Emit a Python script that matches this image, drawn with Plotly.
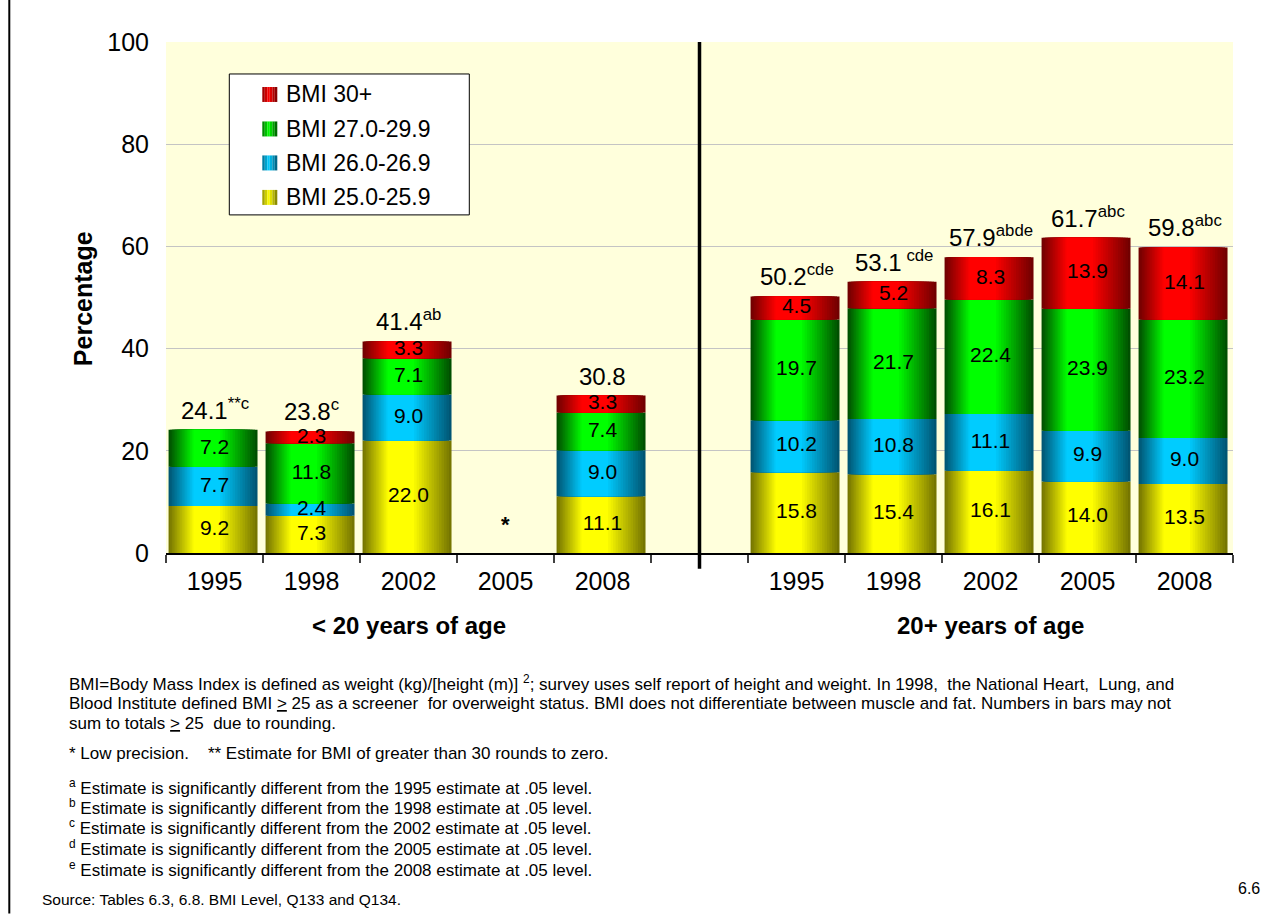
import plotly.graph_objects as go

# ---------------------------------------------------------------- data
years = ["1995", "1998", "2002", "2005", "2008"]
group_labels = ["< 20 years of age", "20+ years of age"]
series_names = ["BMI 25.0-25.9", "BMI 26.0-26.9", "BMI 27.0-29.9", "BMI 30+"]

# under 20 years of age (2005: low precision, not shown)
bmi25_under20 = [9.2, 7.3, 22.0, None, 11.1]
bmi26_under20 = [7.7, 2.4, 9.0, None, 9.0]
bmi27_under20 = [7.2, 11.8, 7.1, None, 7.4]
bmi30_under20 = [0.0, 2.3, 3.3, None, 3.3]
totals_under20 = [24.1, 23.8, 41.4, None, 30.8]
notes_under20 = ["**c", "c", "ab", "", ""]

# 20+ years of age
bmi25_adult = [15.8, 15.4, 16.1, 14.0, 13.5]
bmi26_adult = [10.2, 10.8, 11.1, 9.9, 9.0]
bmi27_adult = [19.7, 21.7, 22.4, 23.9, 23.2]
bmi30_adult = [4.5, 5.2, 8.3, 13.9, 14.1]
totals_adult = [50.2, 53.1, 57.9, 61.7, 59.8]
notes_adult = ["cde", " cde", "abde", "abc", "abc"]

footnotes = [
    "BMI=Body Mass Index is defined as weight (kg)/[height (m)] <sup>2</sup>; survey uses self report of height and weight. In 1998,  the National Heart,  Lung, and",
    "Blood Institute defined BMI <u>></u> 25 as a screener  for overweight status. BMI does not differentiate between muscle and fat. Numbers in bars may not",
    "sum to totals <u>></u> 25  due to rounding.",
    "* Low precision.\u00a0\u00a0\u00a0 ** Estimate for BMI of greater than 30 rounds to zero.",
    "<sup>a</sup> Estimate is significantly different from the 1995 estimate at .05 level.",
    "<sup>b</sup> Estimate is significantly different from the 1998 estimate at .05 level.",
    "<sup>c</sup> Estimate is significantly different from the 2002 estimate at .05 level.",
    "<sup>d</sup> Estimate is significantly different from the 2005 estimate at .05 level.",
    "<sup>e</sup> Estimate is significantly different from the 2008 estimate at .05 level.",
]
source_text = "Source: Tables 6.3, 6.8. BMI Level, Q133 and Q134."
page_number = "6.6"

# ---------------------------------------------------------------- layout helpers
W, H = 1278, 914
L, R, T, B = 165.7, 1232.7, 42.0, 553.3      # plot area in pixels
FONT = "Liberation Sans, Arial, sans-serif"


def px_x(px):
    return (px - L) / (R - L)


def px_y(py):
    return (B - py) / (B - T)


# slots 0-4: under 20, slot 5: spacer, slots 6-10: adults
slots = [0, 1, 2, 3, 4, 6, 7, 8, 9, 10]
series_values = [
    bmi25_under20 + bmi25_adult,
    bmi26_under20 + bmi26_adult,
    bmi27_under20 + bmi27_adult,
    bmi30_under20 + bmi30_adult,
]
totals = totals_under20 + totals_adult
notes = notes_under20 + notes_adult

# dark edge / bright centre colours of each series
shades = {
    "BMI 25.0-25.9": ((0x76, 0x76, 0x00), (0xFF, 0xFF, 0x00)),
    "BMI 26.0-26.9": ((0x00, 0x56, 0x74), (0x00, 0xCC, 0xFF)),
    "BMI 27.0-29.9": ((0x00, 0x50, 0x00), (0x00, 0xFF, 0x00)),
    "BMI 30+": ((0x72, 0x00, 0x00), (0xFF, 0x00, 0x00)),
}


def mix(c0, c1, t):
    return "rgb(%d,%d,%d)" % tuple(round(a + (b - a) * t) for a, b in zip(c0, c1))


BAR_W = 0.917
BAR_LEFT = -0.4735          # bar left edge relative to slot centre
N_LAYERS = 16
PLATEAU = (0.28, 0.58)       # bright part of the cylinder shading

fig = go.Figure()

bases = [0.0] * len(slots)
for name, vals in zip(series_names, series_values):
    dark, bright = shades[name]
    seg_base = list(bases)
    for k in range(N_LAYERS):
        t = k / (N_LAYERS - 1)
        u0 = PLATEAU[0] * t
        u1 = 1 - (1 - PLATEAU[1]) * t
        fig.add_trace(go.Bar(
            x=slots,
            y=[v if v is not None else 0 for v in vals],
            base=seg_base,
            offset=BAR_LEFT + u0 * BAR_W,
            width=(u1 - u0) * BAR_W,
            marker=dict(color=mix(dark, bright, t), line=dict(width=0)),
            name=name,
            showlegend=False,
            hoverinfo="skip" if k < N_LAYERS - 1 else "y+name",
        ))
    # value labels in the middle of each segment
    lx, ly, lt = [], [], []
    for i, v in enumerate(vals):
        if v:
            lx.append(slots[i])
            ly.append(seg_base[i] + v / 2)
            lt.append(f"{v:.1f}")
    fig.add_trace(go.Scatter(
        x=lx, y=ly, text=lt, mode="text",
        textfont=dict(family=FONT, size=21, color="black"),
        showlegend=False, hoverinfo="skip", cliponaxis=False,
    ))
    bases = [b + (v or 0) for b, v in zip(bases, vals)]

annotations = []

# totals above the bars
for x, tot, note in zip(slots, totals, notes):
    if tot is None:
        continue
    txt = f"{tot:.1f}" + (f"<sup>{note}</sup>" if note else "")
    annotations.append(dict(
        x=x, y=tot, xref="x", yref="y", text=txt, showarrow=False,
        yanchor="bottom", xanchor="center", yshift=4,
        font=dict(family=FONT, size=24, color="black"),
    ))

# low-precision marker for 2005, under 20
annotations.append(dict(
    x=3, y=5.5, xref="x", yref="y", text="<b>*</b>", showarrow=False,
    xanchor="center", yanchor="middle",
    font=dict(family=FONT, size=22, color="black"),
))

# group labels
for x, g in zip([2, 8], group_labels):
    annotations.append(dict(
        x=x, y=px_y(626), xref="x", yref="paper", text=f"<b>{g}</b>",
        xanchor="center", yanchor="middle",
        showarrow=False, font=dict(family=FONT, size=24, color="black"),
    ))

# y axis title
annotations.append(dict(
    x=px_x(83), y=px_y(299), xref="paper", yref="paper", text="<b>Percentage</b>",
    xanchor="center", yanchor="middle",
    textangle=-90, showarrow=False, font=dict(family=FONT, size=25, color="black"),
))

# legend (drawn by hand inside the plot)
legend_box = dict(type="rect", xref="paper", yref="paper",
                  x0=px_x(229), x1=px_x(469), y0=px_y(215), y1=px_y(74),
                  line=dict(color="black", width=1), fillcolor="white", layer="above")
shapes = [legend_box]
legend_rows = [94.5, 129, 163, 197.5]
for row_y, name in zip(legend_rows, reversed(series_names)):
    dark, bright = shades[name]
    sw0, sw1 = 262, 277
    steps = 6
    for s in range(steps):
        a = sw0 + (sw1 - sw0) * s / steps
        b = sw0 + (sw1 - sw0) * (s + 1) / steps
        t = 1 - abs((s + 0.5) / steps - 0.45) * 1.8
        shapes.append(dict(type="rect", xref="paper", yref="paper",
                           x0=px_x(a), x1=px_x(b), y0=px_y(row_y + 7.5), y1=px_y(row_y - 7.5),
                           line=dict(width=0), fillcolor=mix(dark, bright, max(t, 0)),
                           layer="above"))
    annotations.append(dict(
        x=px_x(284), y=px_y(row_y), xref="paper", yref="paper", text=name,
        xanchor="left", yanchor="middle", showarrow=False,
        font=dict(family=FONT, size=23, color="black"),
    ))

# divider between the two age groups
shapes.append(dict(type="line", xref="x", yref="paper", x0=5, x1=5,
                   y0=px_y(569), y1=1, line=dict(color="black", width=3.5)))
# page edge on the left
shapes.append(dict(type="line", xref="paper", yref="paper", x0=px_x(9), x1=px_x(9),
                   y0=px_y(H), y1=px_y(0), line=dict(color="black", width=2)))

# footnotes
foot_rows = [683, 704, 724, 754, 787, 807, 827, 848, 869]
for row_y, txt in zip(foot_rows, footnotes):
    annotations.append(dict(
        x=px_x(67), y=px_y(row_y), xref="paper", yref="paper", text=txt,
        xanchor="left", yanchor="middle", showarrow=False,
        font=dict(family=FONT, size=17, color="black"),
    ))
annotations.append(dict(
    x=px_x(40), y=px_y(900), xref="paper", yref="paper", text=source_text,
    xanchor="left", yanchor="middle", showarrow=False,
    font=dict(family=FONT, size=15.5, color="black"),
))
annotations.append(dict(
    x=px_x(1262), y=px_y(889), xref="paper", yref="paper", text=page_number,
    xanchor="right", yanchor="middle", showarrow=False,
    font=dict(family=FONT, size=16, color="black"),
))

fig.update_layout(
    width=W, height=H,
    margin=dict(l=L, r=W - R, t=T, b=H - B, pad=0),
    barmode="overlay",
    paper_bgcolor="white",
    plot_bgcolor="#FFFFDC",
    showlegend=False,
    font=dict(family=FONT, color="black"),
    shapes=shapes,
    annotations=annotations,
    xaxis=dict(
        range=[-0.5, 10.5], tickmode="array", tickvals=slots, ticktext=years + years,
        ticks="", showgrid=False, zeroline=False,
        showline=True, linecolor="black", linewidth=1.5,
        tickfont=dict(family=FONT, size=25, color="black"),
        ticklabelstandoff=5,
        minor=dict(tickmode="array", tickvals=[i - 0.5 for i in range(12)],
                   ticks="outside", ticklen=8, tickwidth=1.5, tickcolor="#404040",
                   showgrid=False),
        fixedrange=True,
    ),
    yaxis=dict(
        range=[0, 100], tickmode="linear", tick0=0, dtick=20,
        showgrid=True, gridcolor="#C4C4C4", gridwidth=1,
        zeroline=False, showline=False, ticks="",
        tickfont=dict(family=FONT, size=25, color="black"),
        ticklabelstandoff=16,
        fixedrange=True,
    ),
)

fig.write_html("out.html")
